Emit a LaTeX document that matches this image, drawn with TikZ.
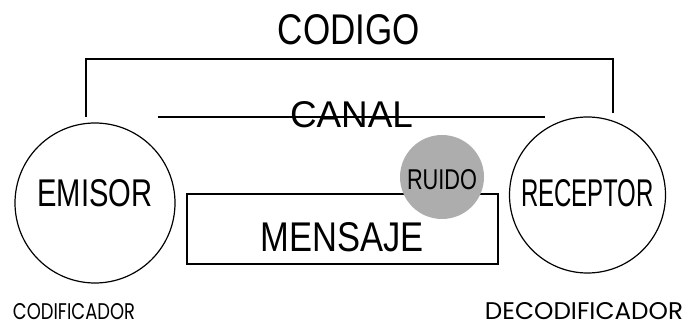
\documentclass[tikz,border=0pt]{standalone}
\usepackage{graphicx}
\usepackage{fontspec}
\setmainfont{Liberation Sans}
\newfontfamily\geofont{Poppins}
\usetikzlibrary{positioning}

\newcommand{\boxtext}[3]{\resizebox{#1pt}{#2pt}{#3}}

\begin{document}
\begin{tikzpicture}[x=1pt,y=-1pt,line width=1.2pt,
    main node/.style={circle,draw,inner sep=0pt},
    word/.style={inner sep=0pt,anchor=base}]

    \useasboundingbox (0,0) rectangle (700,328);

    \node[word] (codigo) at (349,45)  {\boxtext{142}{30}{CODIGO}};
    \node[word] (canal)  at (351.5,128) {\boxtext{123}{26}{CANAL}};

    \node[main node,minimum size=160pt] (emisor)   at (95,203)
        {\raisebox{-4pt}[0pt][0pt]{\boxtext{115}{27}{EMISOR}}};
    \node[main node,minimum size=156pt] (receptor) at (587.5,195)
        {\raisebox{-12pt}[0pt][0pt]{\boxtext{133}{27}{RECEPTOR}}};

    \node[draw,line width=1.4pt,inner sep=0pt,minimum width=311pt,minimum height=70pt] (mensaje) at (342.5,229)
        {\raisebox{-23pt}[0pt][0pt]{\boxtext{163}{29}{MENSAJE}}};
    \node[circle,fill=black!32,inner sep=0pt,minimum size=84pt] (ruido) at (442,177)
        {\raisebox{-13pt}[0pt][0pt]{\boxtext{70}{20}{RUIDO}}};

    \node[word] (codificador)   at (74,319)  {\geofont\boxtext{122}{16}{CODIFICADOR}};
    \node[word] (decodificador) at (584,319) {\geofont\boxtext{198}{17}{DECODIFICADOR}};

    % codigo bracket and canal line
    \coordinate (cod left)  at (86,117);
    \coordinate (cod right) at (613,113);
    \coordinate (canal from) at (158,117);
    \coordinate (canal to)   at (545,117);

    \draw[line width=1.7pt] (cod left) -- ++(0,-58) -| (cod right);
    \draw[line width=1.5pt] (canal from) -- (canal to);
\end{tikzpicture}
\end{document}
